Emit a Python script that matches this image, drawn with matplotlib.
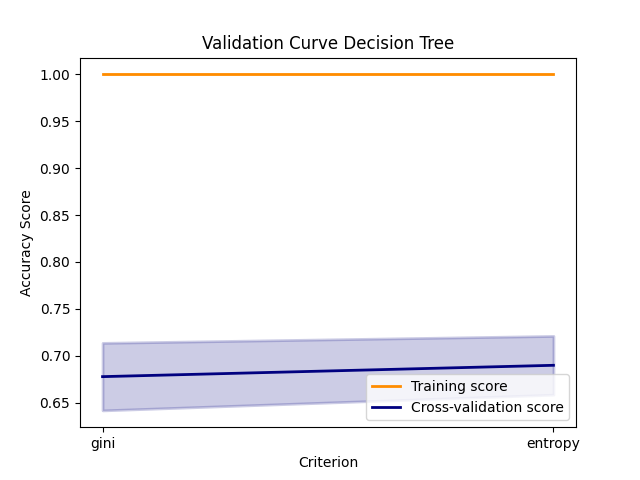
import numpy as np
import matplotlib
matplotlib.use("Agg")
import matplotlib.pyplot as plt

param_range = ["gini", "entropy"]
train_mean = [1.0, 1.0]
train_std = [0.0, 0.0]
test_mean = [0.6777, 0.6898]
test_std = [0.0360, 0.0313]

train_mean = np.array(train_mean)
train_std = np.array(train_std)
test_mean = np.array(test_mean)
test_std = np.array(test_std)

fig = plt.figure(figsize=(6.4, 4.8), dpi=100)
plt.title("Validation Curve Decision Tree")
plt.xlabel("Criterion")
plt.ylabel("Accuracy Score")
lw = 2
plt.plot(param_range, train_mean, label="Training score", color="darkorange", lw=lw)
plt.fill_between(param_range, train_mean - train_std, train_mean + train_std,
                 alpha=0.2, color="darkorange", lw=lw)
plt.plot(param_range, test_mean, label="Cross-validation score", color="navy", lw=lw)
plt.fill_between(param_range, test_mean - test_std, test_mean + test_std,
                 alpha=0.2, color="navy", lw=lw)
plt.legend(loc="lower right")
fig.savefig("out.png")
